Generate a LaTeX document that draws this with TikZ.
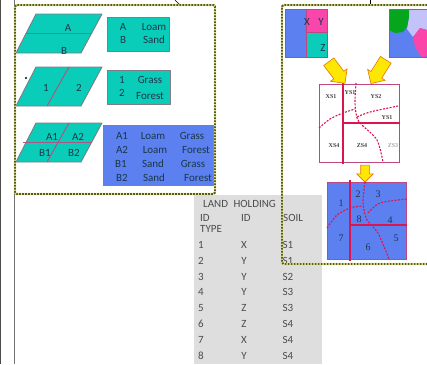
\documentclass[tikz,border=0pt]{standalone}
\usepackage{fontspec}
\usetikzlibrary{shapes.arrows}
\setmainfont{Carlito}
\newfontfamily\serifmap{Liberation Serif}

\definecolor{plotgreen}{RGB}{10,205,185}
\definecolor{plotblue}{RGB}{92,128,240}
\definecolor{plotedge}{RGB}{125,125,135}
\definecolor{mapedge}{RGB}{190,70,130}
\definecolor{mappink}{RGB}{250,70,170}
\definecolor{maplilac}{RGB}{195,195,250}
\definecolor{mapgreen}{RGB}{5,165,30}
\definecolor{parcelred}{RGB}{220,20,80}
\definecolor{inktext}{RGB}{25,55,75}
\definecolor{framedark}{RGB}{85,90,40}
\definecolor{framelight}{RGB}{225,225,130}
\definecolor{tablegray}{RGB}{222,222,222}

\tikzstyle{plot}=[draw=plotedge, fill=plotgreen, line width = 0.9pt, line join=round]
\tikzstyle{split}=[draw=mapedge!70!plotedge, line width = 1pt]
\tikzstyle{framedot}=[draw=framedark, line width = 1.9pt, dash pattern=on 1.7pt off 1.3pt, rounded corners=1.5pt, preaction={draw=framelight, solid, line width = 2.2pt}]
\tikzstyle{bigarrow}=[single arrow, draw=orange!90!black, fill=yellow!90!orange, line width = 0.6pt, inner sep=6pt, single arrow head extend=4pt]
\tikzstyle{txt}=[font=\fontsize{11}{12}\selectfont, text=inktext, inner sep=0pt]
\tikzstyle{tabletxt}=[font=\fontsize{11}{12}\selectfont, text=black!70, inner sep=0pt]
\tikzstyle{maptxt}=[font=\serifmap\bfseries\fontsize{6}{7}\selectfont, text=black!75, inner sep=0pt]
\tikzstyle{parcelno}=[font=\serifmap\fontsize{10}{11}\selectfont, text=inktext, inner sep=0pt]
\tikzstyle{thickline}=[draw=parcelred, line width = 2.2pt]
\tikzstyle{dashline}=[draw=parcelred, line width = 1.1pt, dash pattern=on 2pt off 1.4pt]

\begin{document}
\begin{tikzpicture}[x=1pt, y=-1pt]
	
	\useasboundingbox (0,0) rectangle (427,364);
	\fill[white] (0,0) rectangle (427,364);
	\fill[black!70] (0,0) rectangle (1,364);
	\fill[black!55] (13.6,0) rectangle (14.6,364);
	
	% Table goes first, the frame runs over it
	\fill[tablegray] (194,195) rectangle (322,364);
	\node[tabletxt, anchor=west] (landtitle) at (203,204) {LAND\enspace HOLDING};
	\node[tabletxt, anchor=west] (headid) at (200,218) {ID};
	\node[tabletxt, anchor=west] (headtype) at (200,229) {TYPE};
	\node[tabletxt, anchor=west] (headid2) at (241,218) {ID};
	\node[tabletxt, anchor=west] (headsoil) at (283,218) {SOIL};
	\foreach \n/\k/\s/\y in {1/X/S1/245, 2/Y/S1/261, 3/Y/S2/277, 4/Y/S3/292, 5/Z/S3/308, 6/Z/S4/324, 7/X/S4/340, 8/Y/S4/356} {
		\node[tabletxt] (row\n a) at (201,\y) {\n};
		\node[tabletxt] (row\n b) at (244,\y) {\k};
		\node[tabletxt] (row\n c) at (288,\y) {\s};
	}
	
	% Three plots on the left
	\foreach \t/\b in {14/53, 67/106, 123/162} {
		\draw[plot] (36,\t) -- (102,\t) -- (81,\b) -- (16,\b) -- cycle;
	}
	\draw[split] (26,33) -- (92,33);
	\draw[split] (69,67) -- (47,106);
	\draw[split] (23,142) -- (92,142);
	\draw[split] (69,123) -- (47,162);
	\foreach \y in {50, 106, 160} {
		\draw[parcelred, line width=0.7pt] (15.5,\y-2) -- (15.5,\y+2);
	}
	\fill[black] (26,78) circle (1.1);
	
	\node[txt] (plotA) at (68,28) {A};
	\node[txt] (plotB) at (64,51) {B};
	\node[txt] (plot1) at (46,88) {1};
	\node[txt] (plot2) at (79,88) {2};
	\node[txt] (plotA1) at (52,137) {A1};
	\node[txt] (plotA2) at (78,137) {A2};
	\node[txt] (plotB1) at (45,153) {B1};
	\node[txt] (plotB2) at (74,153) {B2};
	
	% Legends
	\draw[plot] (107,17) rectangle (169,51);
	\draw[plot] (107,70) rectangle (170,104);
	\fill[plotblue] (103,125) rectangle (214,186);
	
	\node[txt] (legA) at (123,27) {A};
	\node[txt] (legLoam) at (154,27) {Loam};
	\node[txt] (legB) at (123,40) {B};
	\node[txt] (legSand) at (154,40) {Sand};
	\node[txt] (leg1) at (122,80) {1};
	\node[txt] (legGrass) at (150,80) {Grass};
	\node[txt] (leg2) at (122,93) {2};
	\node[txt] (legForest) at (150,96) {Forest};
	\foreach \a/\xa/\b/\xb/\c/\xc/\y in {A1/122/Loam/153/Grass/192/136, A2/122/Loam/155/Forest/196/150, B1/121/Sand/153/Grass/193/164, B2/122/Sand/154/Forest/198/178} {
		\node[txt] (cell\a a) at (\xa,\y) {\a};
		\node[txt] (cell\a b) at (\xb,\y) {\b};
		\node[txt] (cell\a c) at (\xc,\y) {\c};
	}
	
	% Input maps
	\fill[plotblue] (285,9) rectangle (306,57);
	\fill[mappink] (306,9) rectangle (327,32);
	\fill[plotgreen] (306,32) rectangle (327,57);
	\draw[mapedge, line width=0.7pt] (285,9) rectangle (327,57);
	\draw[mapedge, line width=0.5pt] (306,9) -- (306,57) (306,32) -- (327,32);
	\node[txt] (mapX) at (307,22) {X};
	\node[txt] (mapY) at (321,22) {Y};
	\node[txt] (mapZ) at (323,48) {Z};
	
	\fill[plotblue] (389,9) rectangle (427,57);
	\fill[maplilac] (409,9) -- (427,9) -- (427,30) -- (420,28) -- (413,37) -- (407,29) -- (409,17) -- cycle;
	\fill[mappink] (427,30) -- (420,28) -- (413,37) -- (415,47) -- (422,58) -- (427,56) -- cycle;
	\fill[mapgreen] (389,9) -- (409,9) -- (409,17) -- (407,27) -- (403,32) -- (395,33) -- (389,30) -- cycle;
	\draw[mapedge, line width=0.7pt] (427,9) -- (389,9) -- (389,57) -- (427,57);
	
	% Overlay of the two maps
	\draw[mapedge, line width=0.6pt] (319,84) rectangle (399,162);
	\draw[dashline] plot[smooth] coordinates {(319,128) (330,119) (343,113) (355,109)};
	\draw[dashline] plot[smooth] coordinates {(356,83) (355,103) (357,118) (362,125) (377,140) (383,162)};
	\draw[dashline] plot[smooth] coordinates {(357,117) (370,112) (398,106)};
	\draw[thickline] (343,82) -- (343,164);
	\draw[thickline] (343,123) -- (400,123);
	\node[maptxt] (xs1) at (331,97) {XS1};
	\node[maptxt] (ys4) at (350,93) {YS1};
	\node[maptxt] (ys2) at (376,97) {YS2};
	\node[maptxt] (ys1) at (387,118) {YS1};
	\node[maptxt] (xs4) at (334,146) {XS4};
	\node[maptxt] (zs4) at (362,146) {ZS4};
	\node[maptxt, text=black!35] (zs3) at (393,146) {ZS3};
	
	\node[bigarrow, minimum height=27pt, minimum width=20pt, rotate=-53] (arrowleft) at (335,70) {};
	\node[bigarrow, minimum height=28pt, minimum width=20pt, rotate=-122] (arrowright) at (380,69) {};
	\node[bigarrow, inner sep=4pt, minimum height=17pt, minimum width=16pt, rotate=-90] (arrowdown) at (365,171.5) {};
	
	% Land holdings
	\fill[plotblue] (327,182) rectangle (406,259);
	\draw[mapedge, line width=0.7pt] (327,182) rectangle (406,259);
	\draw[dashline] plot[smooth] coordinates {(327,228) (337,215) (350,208) (362,206)};
	\draw[dashline] plot[smooth] coordinates {(365,182) (363,203) (367,220) (378,233) (389,259)};
	\draw[dashline] plot[smooth] coordinates {(368,213) (380,203) (407,199)};
	\draw[thickline] (350,180) -- (350,261);
	\draw[thickline] (350,225) -- (407,225);
	\foreach \n/\x/\y in {1/341/203, 2/358/194, 3/378/194, 8/359/219, 4/390/220, 7/341/238, 6/368/247, 5/396/238} {
		\node[parcelno] (parcel\n) at (\x,\y) {\n};
	}
	
	% Dotted frames
	\draw[framedot] (15,194) -- (15,5) -- (215,5) -- (215,194) -- cycle;
	\draw[framedot] (427,5) -- (282,5) -- (282,264) -- (427,264);
	
	% Cut off strokes at the top edge
	\draw[black, line width=0.7pt] (175,0) -- (179,4);
	\draw[black, line width=0.7pt] (370,0) -- (370,4);
	
\end{tikzpicture}
\end{document}
